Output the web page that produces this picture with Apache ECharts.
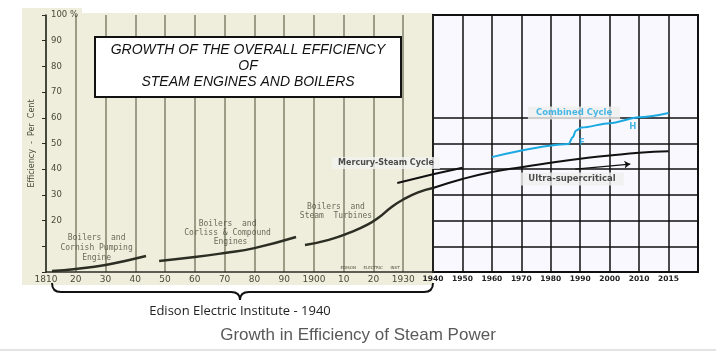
<!DOCTYPE html>
<html>
<head>
<meta charset="utf-8">
<script src="https://cdn.jsdelivr.net/npm/echarts@6.0.0/dist/echarts.min.js"></script>
<style>
  html, body { margin: 0; padding: 0; background: #fff; }
  #chart { width: 716px; height: 352px; }
</style>
</head>
<body>
<div id="chart"></div>
<script>
// ---- data (efficiency in per cent) ----
const leftTicks = ['1810', '20', '30', '40', '50', '60', '70', '80', '90', '1900', '10', '20', '1930', ''];
const rightTicks = ['1940', '1950', '1960', '1970', '1980', '1990', '2000', '2010', '2015', ''];
const rightTickYears = [1940, 1950, 1960, 1970, 1980, 1990, 2000, 2010, 2015];

const cornishYears = [1812, 1820, 1830, 1838, 1843.6];
const cornishEff = [0.4, 1.2, 2.7, 4.7, 6.2];

const corlissYears = [1848, 1860, 1870, 1880, 1894];
const corlissEff = [4.3, 5.8, 7.4, 9.3, 13.6];

const turbineYears = [1897, 1905, 1912, 1918, 1922, 1926, 1930, 1935, 1940];
const turbineEff = [10.5, 12.5, 15.3, 18.4, 21.4, 25.2, 28.2, 31, 32.7];

const mercuryYears = [1928, 1940, 1950];
const mercuryEff = [34.6, 38.0, 40.6];

const ultraYears = [1940, 1950, 1960, 1970, 1980, 1990, 2000, 2010, 2015];
const ultraEff = [32.7, 36.2, 38.9, 40.8, 42.5, 44.1, 45.3, 46.4, 47];

const combinedYears = [1960, 1986, 1987.5, 1988.5, 1990.5, 2000, 2010, 2015];
const combinedEff = [44.7, 49.8, 52.5, 55, 56.2, 57.9, 60.2, 61.9];

const arrowYears = [1988.3, 2007];
const arrowEff = [40, 42];

// text notes (anchored in data coordinates)
const scanNotes = ['Boilers  and', 'Cornish Pumping', 'Engine',
                   'Boilers  and', 'Corliss & Compound', 'Engines',
                   'Boilers  and', 'Steam  Turbines'];
const scanNoteYears = [1827, 1827, 1827, 1871, 1871, 1872, 1907.4, 1907.4];
const scanNoteEff = [13.2, 9.3, 5.4, 18.7, 15.2, 11.7, 25.3, 21.8];

const modernNotes = ['Combined Cycle', 'F', 'H', 'Ultra-supercritical'];
const modernNoteYears = [1987.9, 1990.6, 2007.9, 1987.2];
const modernNoteEff = [61.9, 50.4, 56.4, 36.2];

// right panel ticks are evenly spaced although the last step is only 5 years
function toSlot(year) {
    for (let i = 0; i < rightTickYears.length - 1; i++) {
        let a = rightTickYears[i], b = rightTickYears[i + 1];
        if (year <= b) return i + (year - a) / (b - a);
    }
    return rightTickYears.length - 1;
}
function pairs(xs, ys) {
    return xs.map((x, i) => [x, ys[i]]);
}
function slotPairs(xs, ys) {
    return xs.map((x, i) => [toSlot(x), ys[i]]);
}

const scanInk = '#474a3a';
const scanLine = '#2c2e24';
const modernInk = '#111';
const blue = '#1ba9e1';

let chart = echarts.init(document.getElementById('chart'));

let mercuryLeftY = [], mercuryLeftE = [], mercuryRightY = [], mercuryRightE = [];
mercuryYears.forEach((y, i) => {
    if (y <= 1940) { mercuryLeftY.push(y); mercuryLeftE.push(mercuryEff[i]); }
    if (y >= 1940) { mercuryRightY.push(y); mercuryRightE.push(mercuryEff[i]); }
});

const braceStyle = {fill: 'none', stroke: '#111', lineWidth: 2};

let option = {
    animation: false,
    backgroundColor: '#fff',
    grid: [
        {left: 46, top: 15, width: 387, height: 257, show: false},
        {left: 433, top: 15, width: 265, height: 257, show: true,
         backgroundColor: '#f8f8fe', borderColor: '#111', borderWidth: 2}
    ],
    xAxis: [
        {
            gridIndex: 0, type: 'value', min: 1810, max: 1940, interval: 10,
            axisLine: {show: true, lineStyle: {color: scanLine, width: 1.5}},
            axisTick: {show: false},
            axisLabel: {
                color: scanInk, fontSize: 9, fontFamily: 'DejaVu Sans', margin: 3,
                formatter: v => leftTicks[Math.round((v - 1810) / 10)]
            },
            splitLine: {show: true, lineStyle: {color: '#73755e', width: 1.6, opacity: 0.85}}
        },
        {
            gridIndex: 1, type: 'value', min: 0, max: 9, interval: 1,
            axisLine: {show: false},
            axisTick: {show: false},
            axisLabel: {
                color: '#222', fontSize: 7.5, fontWeight: 'bold', fontFamily: 'DejaVu Sans', margin: 3,
                formatter: v => rightTicks[v]
            },
            splitLine: {show: true, lineStyle: {color: '#111', width: 1.5}}
        }
    ],
    yAxis: [
        {
            gridIndex: 0, type: 'value', min: 0, max: 100, interval: 10,
            name: 'Efficiency  -  Per  Cent', nameLocation: 'middle', nameGap: 10, nameRotate: 90,
            nameTextStyle: {color: scanInk, fontSize: 8, fontFamily: 'DejaVu Sans'},
            axisLine: {show: true, lineStyle: {color: scanLine, width: 1.5}},
            axisTick: {show: true, length: 4, lineStyle: {color: scanLine}},
            axisLabel: {
                inside: true, margin: 5, color: scanInk, fontSize: 8.5, fontFamily: 'DejaVu Sans',
                formatter: v => v === 100 ? '100 %' : (v < 20 ? '' : v)
            },
            splitLine: {show: false}
        },
        {
            gridIndex: 1, type: 'value', min: 0, max: 100, interval: 10,
            axisLine: {show: false}, axisTick: {show: false}, axisLabel: {show: false},
            splitLine: {show: true, lineStyle: {
                width: 1.5,
                color: ['#111', '#111', '#111', '#111', '#111', '#111', '#111',
                        'rgba(0,0,0,0)', 'rgba(0,0,0,0)', 'rgba(0,0,0,0)', '#111']
            }}
        }
    ],
    graphic: [
        {type: 'rect', z: -10, silent: true, shape: {x: 22, y: 8, width: 411, height: 277},
         style: {fill: '#efeedc'}},
        {type: 'rect', z: -9, silent: true, shape: {x: 82, y: 8, width: 351, height: 5},
         style: {fill: '#fff'}},
        {type: 'rect', z: 50, shape: {x: 95, y: 37, width: 306, height: 60},
         style: {fill: '#fff', stroke: '#111', lineWidth: 2}},
        {type: 'text', z: 51, x: 248, y: 50,
         style: {text: 'GROWTH OF THE OVERALL EFFICIENCY', fill: '#111', align: 'center', verticalAlign: 'middle',
                 font: 'italic 14px "Liberation Sans"'}},
        {type: 'text', z: 51, x: 248, y: 66,
         style: {text: 'OF', fill: '#111', align: 'center', verticalAlign: 'middle',
                 font: 'italic 14px "Liberation Sans"'}},
        {type: 'text', z: 51, x: 248, y: 82,
         style: {text: 'STEAM ENGINES AND BOILERS', fill: '#111', align: 'center', verticalAlign: 'middle',
                 font: 'italic 14px "Liberation Sans"'}},
        {type: 'text', z: 20, x: 370, y: 268,
         style: {text: 'EDISON      ELECTRIC      INST', fill: scanInk, align: 'center', verticalAlign: 'middle',
                 font: '4px "DejaVu Sans"'}},
        // curly brace under the old chart
        {type: 'bezierCurve', z: 20, shape: {x1: 52, y1: 283, cpx1: 52, cpy1: 292, x2: 61, y2: 292}, style: braceStyle},
        {type: 'line', z: 20, shape: {x1: 61, y1: 292, x2: 231, y2: 292}, style: braceStyle},
        {type: 'bezierCurve', z: 20, shape: {x1: 231, y1: 292, cpx1: 240, cpy1: 292, x2: 240, y2: 300}, style: braceStyle},
        {type: 'bezierCurve', z: 20, shape: {x1: 240, y1: 300, cpx1: 240, cpy1: 292, x2: 249, y2: 292}, style: braceStyle},
        {type: 'line', z: 20, shape: {x1: 249, y1: 292, x2: 424, y2: 292}, style: braceStyle},
        {type: 'bezierCurve', z: 20, shape: {x1: 424, y1: 292, cpx1: 433, cpy1: 292, x2: 433, y2: 283}, style: braceStyle},
        {type: 'text', x: 240, y: 311,
         style: {text: 'Edison Electric Institute - 1940', fill: '#222', align: 'center', verticalAlign: 'middle',
                 font: '13px "Open Sans"'}},
        {type: 'text', x: 358, y: 335,
         style: {text: 'Growth in Efficiency of Steam Power', fill: '#595959', align: 'center', verticalAlign: 'middle',
                 font: '17px "Liberation Sans"'}},
        {type: 'line', shape: {x1: 0, y1: 350, x2: 716, y2: 350},
         style: {stroke: '#dadada', lineWidth: 1.5}}
    ],
    series: [
        {type: 'line', xAxisIndex: 0, yAxisIndex: 0, smooth: true, symbol: 'none',
         lineStyle: {color: scanLine, width: 2.5}, data: pairs(cornishYears, cornishEff)},
        {type: 'line', xAxisIndex: 0, yAxisIndex: 0, smooth: true, symbol: 'none',
         lineStyle: {color: scanLine, width: 2.5}, data: pairs(corlissYears, corlissEff)},
        {type: 'line', xAxisIndex: 0, yAxisIndex: 0, smooth: 0.5, symbol: 'none',
         lineStyle: {color: scanLine, width: 2.5}, data: pairs(turbineYears, turbineEff)},
        {type: 'line', xAxisIndex: 0, yAxisIndex: 0, smooth: true, symbol: 'none',
         lineStyle: {color: modernInk, width: 2}, data: pairs(mercuryLeftY, mercuryLeftE)},
        {type: 'line', xAxisIndex: 1, yAxisIndex: 1, smooth: true, symbol: 'none',
         lineStyle: {color: modernInk, width: 2}, data: slotPairs(mercuryRightY, mercuryRightE)},
        {type: 'line', xAxisIndex: 1, yAxisIndex: 1, smooth: 0.5, symbol: 'none',
         lineStyle: {color: modernInk, width: 2}, data: slotPairs(ultraYears, ultraEff),
         markLine: {
             silent: true, symbol: ['none', 'arrow'], symbolSize: 6,
             lineStyle: {color: modernInk, width: 1.2, type: 'solid'}, label: {show: false},
             data: [[{coord: [toSlot(arrowYears[0]), arrowEff[0]]}, {coord: [toSlot(arrowYears[1]), arrowEff[1]]}]]
         }},
        {type: 'line', xAxisIndex: 1, yAxisIndex: 1, smooth: 0.3, smoothMonotone: 'x', symbol: 'none',
         lineStyle: {color: blue, width: 2}, data: slotPairs(combinedYears, combinedEff)},
        // scanned annotations
        {type: 'scatter', xAxisIndex: 0, yAxisIndex: 0, symbolSize: 0, silent: true,
         label: {show: true, position: 'inside', color: scanInk, fontSize: 8, fontFamily: 'DejaVu Sans Mono',
                 formatter: p => scanNotes[p.dataIndex]},
         data: pairs(scanNoteYears, scanNoteEff)},
        {type: 'scatter', xAxisIndex: 0, yAxisIndex: 0, symbolSize: 0, silent: true, z: 30,
         label: {show: true, position: 'inside', color: '#222', fontSize: 8, fontWeight: 'bold',
                 fontFamily: 'DejaVu Sans', backgroundColor: '#f3f3f1', padding: [2, 6],
                 formatter: 'Mercury-Steam Cycle'},
         data: [[1924.2, 42.4]]},
        {type: 'scatter', xAxisIndex: 1, yAxisIndex: 1, symbolSize: 0, silent: true, z: 30,
         label: {show: true, position: 'inside', fontSize: 8.5, fontWeight: 'bold', fontFamily: 'DejaVu Sans',
                 formatter: p => modernNotes[p.dataIndex]},
         data: modernNotes.map((t, i) => ({
             value: [toSlot(modernNoteYears[i]), modernNoteEff[i]],
             label: t.length > 1
                 ? {color: t === 'Combined Cycle' ? blue : '#222', backgroundColor: '#efefef', padding: [2, 8]}
                 : {color: blue}
         }))}
    ]
};
chart.setOption(option);
</script>
</body>
</html>
